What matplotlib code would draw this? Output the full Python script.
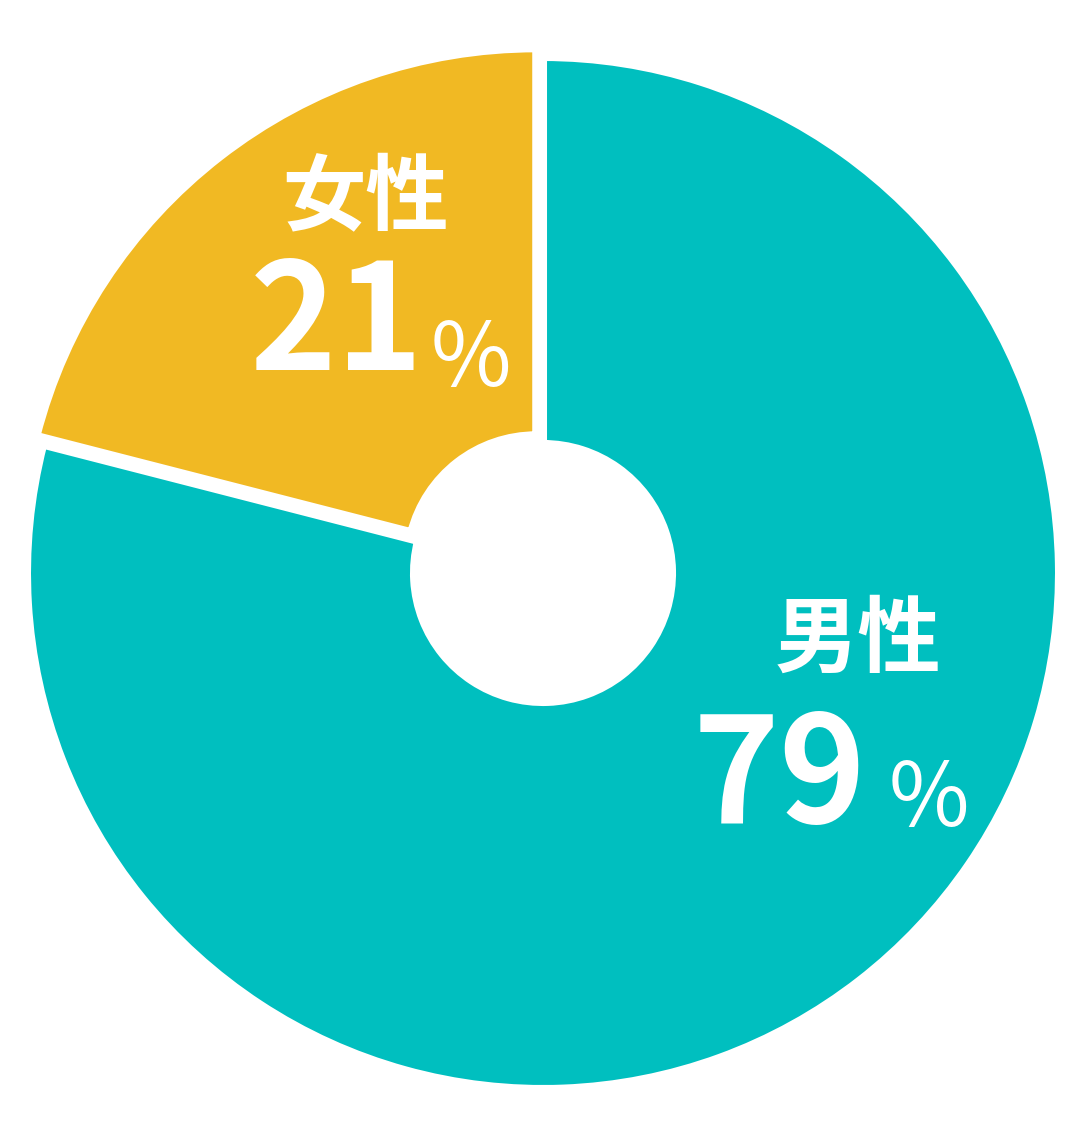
"""
Donut chart: male / female ratio
"""

import matplotlib
matplotlib.use('Agg')
import matplotlib.pyplot as plt

#---------------------------------------------------------------------------------------------------
# Data
#---------------------------------------------------------------------------------------------------

labels = ['男性', '女性']
values = [79, 21]
colors = ['#00BFBF', '#F1B923']

#---------------------------------------------------------------------------------------------------
# Figure (work in pixel units, pie centre at 0, 0)
#---------------------------------------------------------------------------------------------------

W, H = 1078, 1135
cx, cy = 543, 573
R = 516
hole = 129
explode = [0, 11]   # pie() takes explode in data units here (pixels)

fig = plt.figure(figsize=(W / 100, H / 100), dpi=100)
ax = fig.add_axes([0, 0, 1, 1])

ax.pie(values, colors=colors, startangle=90, counterclock=False, explode=explode,
       radius=R, wedgeprops=dict(width=R - hole, edgecolor='white', linewidth=5.8))

# pie() resets the limits, so set them afterwards
ax.set_xlim(-cx, W - cx)
ax.set_ylim(-(H - cy), cy)
ax.set_aspect('equal')
ax.axis('off')

jp = ['Noto Sans CJK JP', 'DejaVu Sans']


def px(x, y):
    return x / W, 1 - y / H


# Labels
lab_pos = {'女性': (366, 223), '男性': (858, 666)}
num_pos = {'女性': (337, 370), '男性': (779, 823)}
pct_pos = {'女性': (471, 386), '男性': (929, 826)}
for lab, v in zip(labels, values):
    fig.text(*px(*lab_pos[lab]), lab, ha='center', va='baseline', fontsize=60,
             fontweight='bold', color='white', family=jp)
    fig.text(*px(*num_pos[lab]), f'{v}', ha='center', va='baseline', fontsize=106,
             fontweight='bold', color='white', family=jp)
    fig.text(*px(*pct_pos[lab]), '%', ha='center', va='baseline', fontsize=63,
             color='white', family=jp)

plt.savefig('out.png', dpi=100)
plt.close()
